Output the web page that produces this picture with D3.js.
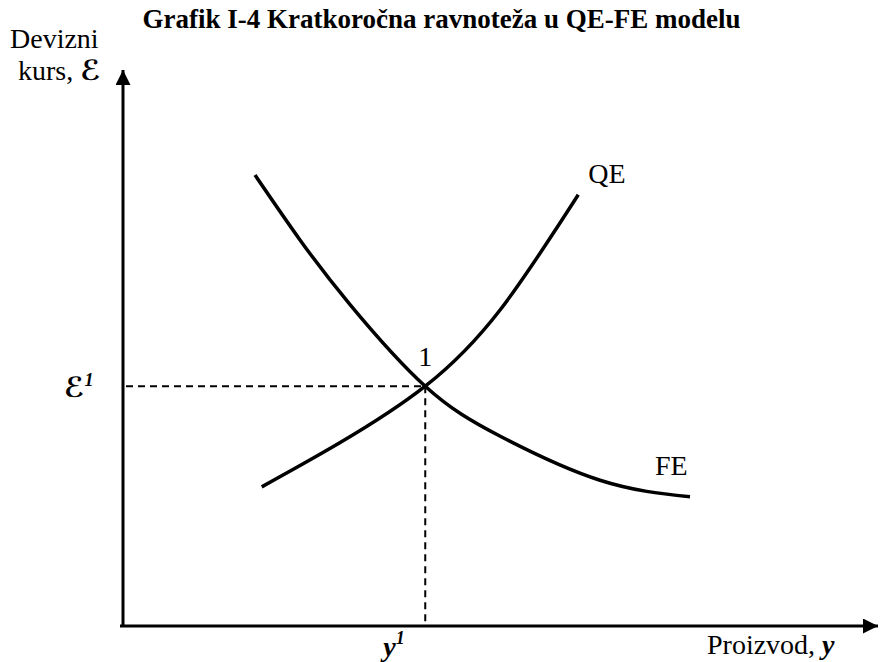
<!DOCTYPE html>
<html>
<head>
<meta charset="utf-8">
<script src="https://cdn.jsdelivr.net/npm/d3@7"></script>
<style>
  body { margin: 0; background: #fff; }
  text { font-family: "Liberation Serif", "Times New Roman", serif; fill: #000; }
  .scr { font-family: "DejaVu Sans", sans-serif; }
</style>
</head>
<body>
<div id="chart"></div>
<script>
var width = 881;
var height = 662;

// curve points in model units (0-100 on both axes)
var qeX = [18.5, 28.9, 40.3, 50.3, 60.7];
var qeY = [25.3, 33.3, 43.6, 57.5, 78.4];
var feX = [17.6, 23.6, 30.3, 40.3, 50.3, 63.6, 75.6];
var feY = [82.0, 70.2, 58.4, 43.6, 34.5, 26.5, 23.5];
var eqX = 40.3, eqY = 43.6;   // point 1

var titleText = "Grafik I-4 Kratkoročna ravnoteža u QE-FE modelu";

var svg = d3.select("#chart").append("svg")
  .attr("width", width)
  .attr("height", height);

var x = d3.scaleLinear().domain([0, 100]).range([123, 873]);
var y = d3.scaleLinear().domain([0, 100]).range([626, 76]);

var defs = svg.append("defs");
defs.append("marker")
  .attr("id", "arrow")
  .attr("viewBox", "0 0 10 10")
  .attr("refX", 10).attr("refY", 5)
  .attr("markerWidth", 5).attr("markerHeight", 5)
  .attr("markerUnits", "strokeWidth")
  .attr("orient", "auto")
  .append("path").attr("d", "M0,0L10,5L0,10Z").attr("fill", "#000");

// title
svg.append("text")
  .attr("x", width / 2 + 1).attr("y", 28)
  .attr("text-anchor", "middle")
  .style("font-weight", "bold").style("font-size", "27px")
  .text(titleText);

// axes
svg.append("line")
  .attr("x1", x(0)).attr("y1", y(0))
  .attr("x2", x(0)).attr("y2", y(100) - 6)
  .attr("stroke", "#000").attr("stroke-width", 3)
  .attr("marker-end", "url(#arrow)");
svg.append("line")
  .attr("x1", x(0) - 3).attr("y1", y(0))
  .attr("x2", x(100) + 5).attr("y2", y(0))
  .attr("stroke", "#000").attr("stroke-width", 3)
  .attr("marker-end", "url(#arrow)");

// dashed guides
svg.append("line")
  .attr("x1", x(0) + 3).attr("y1", y(eqY))
  .attr("x2", x(eqX)).attr("y2", y(eqY))
  .attr("stroke", "#000").attr("stroke-width", 2)
  .attr("stroke-dasharray", "7,5");
svg.append("line")
  .attr("x1", x(eqX)).attr("y1", y(eqY))
  .attr("x2", x(eqX)).attr("y2", y(0))
  .attr("stroke", "#000").attr("stroke-width", 2)
  .attr("stroke-dasharray", "7,5");

// curves
var line = d3.line()
  .x(function(d) { return x(d[0]); })
  .y(function(d) { return y(d[1]); })
  .curve(d3.curveNatural);

svg.append("path")
  .datum(d3.zip(qeX, qeY))
  .attr("d", line)
  .attr("fill", "none").attr("stroke", "#000").attr("stroke-width", 3.5);
svg.append("path")
  .datum(d3.zip(feX, feY))
  .attr("d", line)
  .attr("fill", "none").attr("stroke", "#000").attr("stroke-width", 3.5);

// labels
var big = "28px";
svg.append("text").attr("x", 10).attr("y", 48).style("font-size", big).text("Devizni");
var k = svg.append("text").attr("x", 18).attr("y", 80).style("font-size", big);
k.append("tspan").text("kurs, ");
k.append("tspan").attr("class", "scr").style("font-style", "italic").style("font-weight", "bold").text("ℰ");

svg.append("text").attr("x", x(qeX[qeX.length - 1]) + 10).attr("y", y(qeY[qeY.length - 1]) - 12)
  .style("font-size", big).text("QE");
svg.append("text").attr("x", x(feX[feX.length - 1]) - 35).attr("y", y(feY[feY.length - 1]) - 22)
  .style("font-size", big).text("FE");
svg.append("text").attr("x", x(eqX)).attr("y", y(eqY) - 20)
  .attr("text-anchor", "middle").style("font-size", big).text("1");

var e1 = svg.append("text").attr("x", 64).attr("y", y(eqY) + 11)
  .style("font-size", big).style("font-style", "italic").style("font-weight", "bold");
e1.append("tspan").attr("class", "scr").text("ℰ");
e1.append("tspan").attr("dy", -11).style("font-size", "18px").text("1");

var y1 = svg.append("text").attr("x", x(eqX) - 42).attr("y", y(0) + 30)
  .style("font-size", big).style("font-style", "italic").style("font-weight", "bold");
y1.append("tspan").text("y");
y1.append("tspan").attr("dy", -12).style("font-size", "18px").text("1");

var px = svg.append("text").attr("x", 707).attr("y", 654).style("font-size", big);
px.append("tspan").text("Proizvod, ");
px.append("tspan").style("font-style", "italic").style("font-weight", "bold").text("y");
</script>
</body>
</html>
